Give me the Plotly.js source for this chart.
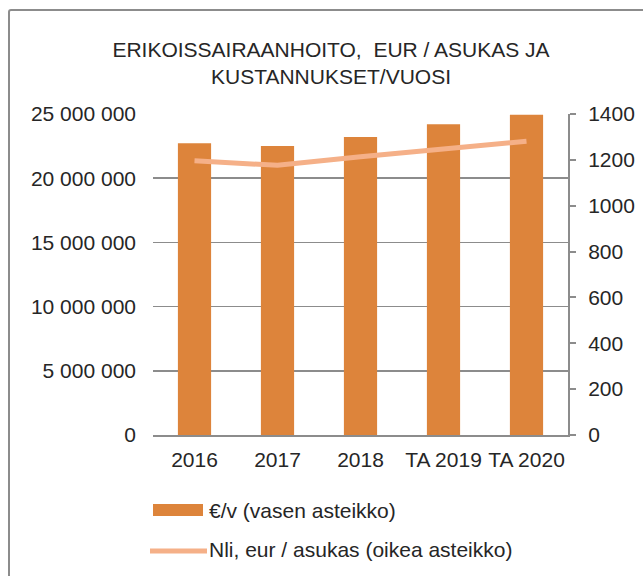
<!DOCTYPE html>
<html><head><meta charset="utf-8">
<script src="https://cdn.plot.ly/plotly-3.0.1.min.js"></script>
<style>
html,body{margin:0;padding:0;background:#fff;overflow:hidden;}
#chart{position:absolute;left:0;top:0;width:643px;height:576px;}
#frame{position:absolute;left:8px;top:9px;width:700px;height:700px;border:2px solid #8c8c8c;border-radius:3px;pointer-events:none;}
</style></head>
<body>
<div id="chart"></div>
<div id="frame"></div>
<script>
const categories = ["2016", "2017", "2018", "TA 2019", "TA 2020"];
const costPerYear = [22720000, 22500000, 23200000, 24200000, 24950000];
const perResident = [1196, 1176, 1214, 1250, 1281];
const seriesNames = ["€/v (vasen asteikko)", "Nli, eur / asukas (oikea asteikko)"];
const leftTicks = [0, 5000000, 10000000, 15000000, 20000000, 25000000];
const leftTickText = ["0", "5 000 000", "10 000 000", "15 000 000", "20 000 000", "25 000 000"];
const rightTicks = [0, 200, 400, 600, 800, 1000, 1200, 1400];

const barColor = "#DD843B";
const lineColor = "#F5B088";
const font = {family: "Liberation Sans, Arial, sans-serif", size: 21, color: "#262626"};

const data = [
  {type: "bar", x: categories, y: costPerYear, name: seriesNames[0],
   marker: {color: barColor}, yaxis: "y", hoverinfo: "skip"},
  {type: "scatter", mode: "lines", x: categories, y: perResident, name: seriesNames[1],
   line: {color: lineColor, width: 5}, yaxis: "y2", hoverinfo: "skip"}
];

const layout = {
  width: 643, height: 576,
  margin: {l: 153, r: 75, t: 114, b: 141},
  paper_bgcolor: "#fff", plot_bgcolor: "#fff",
  font: font,
  showlegend: false,
  bargap: 0.6,
  title: {text: "ERIKOISSAIRAANHOITO,  EUR / ASUKAS JA<br>KUSTANNUKSET/VUOSI",
          font: {family: font.family, size: 21, color: "#262626"},
          xref: "container", x: 331/643, xanchor: "center",
          yref: "container", y: 1 - 57/576, yanchor: "middle"},
  xaxis: {type: "category", showgrid: false, showline: true, linecolor: "#8c8c8c", linewidth: 2,
          ticks: "", ticklabelstandoff: 5, tickfont: font, fixedrange: true},
  yaxis: {range: [0, 25000000], tickvals: leftTicks, ticktext: leftTickText,
          showgrid: true, gridcolor: "#8c8c8c", gridwidth: 1.5, zeroline: false,
          showline: false, ticks: "", ticklabelstandoff: 16, tickfont: font, fixedrange: true},
  yaxis2: {range: [0, 1400], tickvals: rightTicks, overlaying: "y", side: "right",
           showgrid: false, zeroline: false, showline: true, linecolor: "#8c8c8c", linewidth: 2,
           ticks: "outside", ticklen: 6, tickwidth: 2, tickcolor: "#8c8c8c",
           ticklabelstandoff: 8, tickfont: font, fixedrange: true},
  shapes: [
    {type: "rect", xref: "paper", yref: "paper", x0: 0, x1: 50/415, y0: -(510-435+6)/321, y1: -(510-435-6)/321,
     fillcolor: barColor, line: {width: 0}},
    {type: "line", xref: "paper", yref: "paper", x0: -3/415, x1: 54/415, y0: -(551-435)/321, y1: -(551-435)/321,
     line: {color: lineColor, width: 5}}
  ],
  annotations: [
    {xref: "paper", yref: "paper", x: 54/415, y: -(510-435)/321, xanchor: "left", yanchor: "middle",
     text: seriesNames[0], showarrow: false, font: font},
    {xref: "paper", yref: "paper", x: 54/415, y: -(549-435)/321, xanchor: "left", yanchor: "middle",
     text: seriesNames[1], showarrow: false, font: font}
  ]
};

Plotly.newPlot("chart", data, layout, {displayModeBar: false, staticPlot: true});
</script>
</body></html>
